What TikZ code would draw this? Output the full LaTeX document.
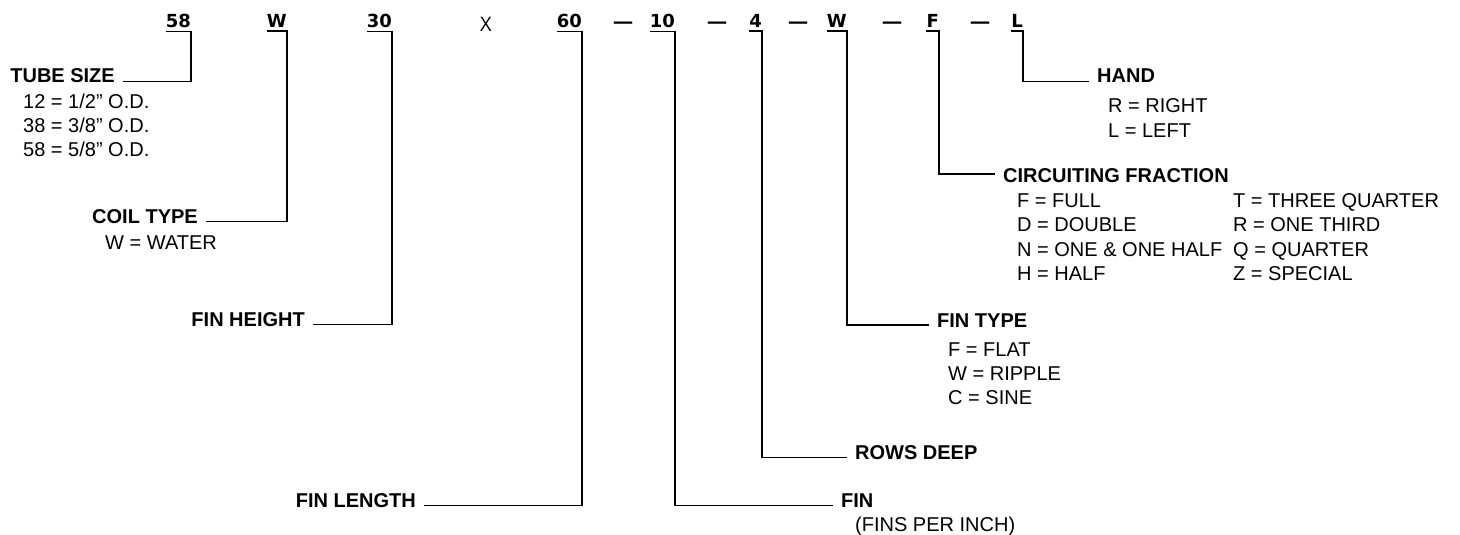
\documentclass[tikz,border=0pt]{standalone}
\usepackage{fontspec}
\setmainfont{Liberation Sans}
\newfontfamily\codefont{DejaVu Sans}
\newfontfamily\signfont{Open Sans}
\usetikzlibrary{positioning}

\begin{document}
\begin{tikzpicture}[x=1pt,y=-1pt]
	\tikzstyle{CodeStyle}  = [font=\codefont\bfseries\fontsize{18}{20}\selectfont, inner xsep=0pt, inner ysep=3pt, anchor=base east]
	\tikzstyle{SignStyle}  = [font=\signfont\fontsize{20}{24}\selectfont, inner sep=0pt, anchor=base]
	\tikzstyle{DashStyle}  = [SignStyle, font=\signfont\bfseries\fontsize{20}{24}\selectfont]
	\tikzstyle{LabelStyle} = [font=\bfseries\fontsize{20}{24}\selectfont, inner xsep=8pt, inner ysep=0pt]
	\tikzstyle{ItemStyle}  = [font=\fontsize{20}{24}\selectfont, inner sep=0pt, anchor=base west]
	\tikzstyle{LeadStyle}  = [line width=1.8pt]
	\useasboundingbox (0,0) rectangle (1460,535);
	% model code
	\node[CodeStyle] (tube)    at (191,28)  {58};
	\node[CodeStyle] (coil)    at (287,28)  {W};
	\node[CodeStyle] (height)  at (392,28)  {30};
	\node[SignStyle] (times)   at (486,32)  {X};
	\node[CodeStyle] (length)  at (582,28)  {60};
	\node[DashStyle] (sep1)    at (623,29)  {—};
	\node[CodeStyle] (fpi)     at (675,28)  {10};
	\node[DashStyle] (sep2)    at (717,29)  {—};
	\node[CodeStyle] (rows)    at (762,28)  {4};
	\node[DashStyle] (sep3)    at (798,29)  {—};
	\node[CodeStyle] (fintype) at (847,28)  {W};
	\node[DashStyle] (sep4)    at (892,29)  {—};
	\node[CodeStyle] (circ)    at (939,28)  {F};
	\node[DashStyle] (sep5)    at (980,29)  {—};
	\node[CodeStyle] (hand)    at (1023,28) {L};
	% labels
	\node[LabelStyle, anchor=base east] (tubelbl)    at (123,83)  {TUBE SIZE};
	\node[LabelStyle, anchor=base east] (coillbl)    at (206,223) {COIL TYPE};
	\node[LabelStyle, anchor=base east] (heightlbl)  at (313,326) {FIN HEIGHT};
	\node[LabelStyle, anchor=base east] (lengthlbl)  at (424,507) {FIN LENGTH};
	\node[LabelStyle, anchor=base west] (fpilbl)     at (833,507) {FIN};
	\node[LabelStyle, anchor=base west] (rowslbl)    at (847,459) {ROWS DEEP};
	\node[LabelStyle, anchor=base west] (fintypelbl) at (929,327) {FIN TYPE};
	\node[LabelStyle, anchor=base west] (circlbl)    at (995,182) {CIRCUITING FRACTION};
	\node[LabelStyle, anchor=base west] (handlbl)    at (1089,83) {HAND};
	% options
	\foreach \t [count=\i] in {12 = 1/2” O.D., 38 = 3/8” O.D., 58 = 5/8” O.D.}
		\node[ItemStyle] (tube-\i) at (23,84+24*\i) {\t};
	\node[ItemStyle] (coil-1) at (105,249) {W = WATER};
	\node[ItemStyle] (fpi-1)  at (855,531) {(FINS PER INCH)};
	\foreach \t [count=\i] in {F = FLAT, W = RIPPLE, C = SINE}
		\node[ItemStyle] (fintype-\i) at (948,332+24*\i) {\t};
	\foreach \a/\b [count=\i] in {F = FULL/T = THREE QUARTER, D = DOUBLE/R = ONE THIRD,
			N = ONE \& ONE HALF/Q = QUARTER, H = HALF/Z = SPECIAL} {
		\node[ItemStyle] (circ-\i)  at (1017,182.5+24.5*\i) {\a};
		\node[ItemStyle] (circb-\i) at (1233,182.5+24.5*\i) {\b};
	}
	\foreach \t [count=\i] in {R = RIGHT, L = LEFT}
		\node[ItemStyle] (hand-\i) at (1108,89+24*\i) {\t};
	% leaders
	\draw[LeadStyle] (tube.south west) -- (tube.south east) |- ([yshift=1.5pt]tubelbl.base east);
	\draw[LeadStyle] (coil.south west) -- (coil.south east) |- ([yshift=1.5pt]coillbl.base east);
	\draw[LeadStyle] (height.south west) -- (height.south east) |- ([yshift=1.5pt]heightlbl.base east);
	\draw[LeadStyle] (length.south west) -- (length.south east) |- ([yshift=1.5pt]lengthlbl.base east);
	\draw[LeadStyle] (fpi.south west) -- (fpi.south east) |- ([yshift=1.5pt]fpilbl.base west);
	\draw[LeadStyle] (rows.south west) -- (rows.south east) |- ([yshift=1.5pt]rowslbl.base west);
	\draw[LeadStyle] (fintype.south west) -- (fintype.south east) |- ([yshift=2pt]fintypelbl.base west);
	\draw[LeadStyle] (circ.south west) -- (circ.south east) |- ([yshift=8pt]circlbl.base west);
	\draw[LeadStyle] (hand.south west) -- (hand.south east) |- ([yshift=1.5pt]handlbl.base west);
\end{tikzpicture}
\end{document}
